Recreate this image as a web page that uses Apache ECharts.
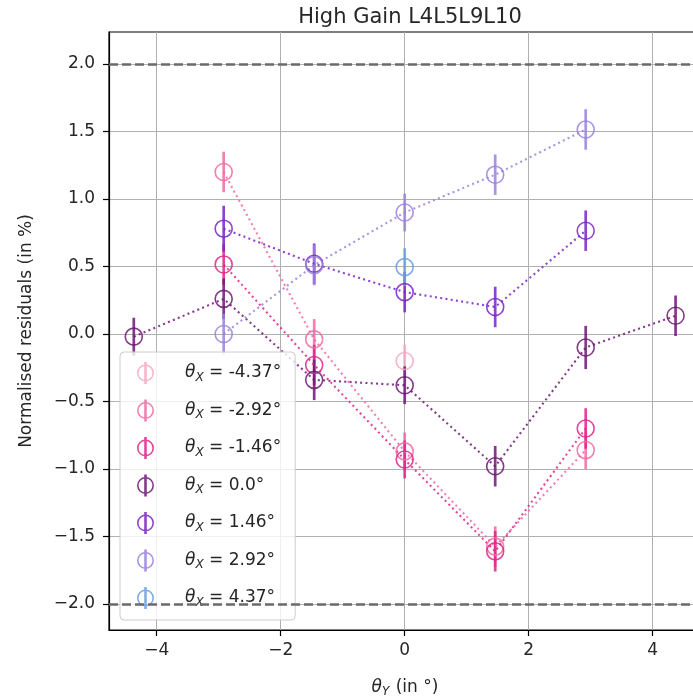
<!DOCTYPE html>
<html>
<head>
<meta charset="utf-8">
<script src="https://cdn.jsdelivr.net/npm/echarts@6/dist/echarts.min.js"></script>
<style>
  html, body { margin: 0; padding: 0; background: #fff; }
  #chart { width: 693px; height: 700px; }
</style>
</head>
<body>
<div id="chart"></div>
<script>
// θX groups shown in the legend, with their colours
const thetaXLabels = ['-4.37', '-2.92', '-1.46', '0.0', '1.46', '2.92', '4.37'];
const groupColors = ['#f7a8c0', '#f06aa3', '#e0238a', '#6e1675', '#7a22c9', '#9a80de', '#6b9de3'];

// θY positions (deg), normalised residuals (%) and their uncertainties, per θX group
const thetaY_m437 = [0];
const resid_m437  = [-0.20];
const err_m437    = [0.12];

const thetaY_m292 = [-2.92, -1.46, 0, 1.46, 2.92];
const resid_m292  = [1.20, -0.04, -0.87, -1.575, -0.86];
const err_m292    = [0.15, 0.15, 0.14, 0.15, 0.14];

const thetaY_m146 = [-2.92, -1.46, 0, 1.46, 2.92];
const resid_m146  = [0.515, -0.23, -0.93, -1.61, -0.70];
const err_m146    = [0.15, 0.15, 0.14, 0.15, 0.15];

const thetaY_0    = [-4.37, -2.92, -1.46, 0, 1.46, 2.92, 4.37];
const resid_0     = [-0.02, 0.26, -0.34, -0.38, -0.98, -0.10, 0.135];
const err_0       = [0.14, 0.15, 0.15, 0.14, 0.15, 0.16, 0.15];

const thetaY_146  = [-2.92, -1.46, 0, 1.46, 2.92];
const resid_146   = [0.78, 0.52, 0.31, 0.20, 0.765];
const err_146     = [0.17, 0.15, 0.15, 0.15, 0.15];

const thetaY_292  = [-2.92, -1.46, 0, 1.46, 2.92];
const resid_292   = [0.0, 0.51, 0.90, 1.18, 1.515];
const err_292     = [0.15, 0.15, 0.14, 0.15, 0.15];

const thetaY_437  = [0];
const resid_437   = [0.495];
const err_437     = [0.14];

// axis ticks
const xTicks = [-4, -2, 0, 2, 4];
const yTicks = [-2, -1.5, -1, -0.5, 0, 0.5, 1, 1.5, 2];
const limitLines = [2, -2];

const groups = [
  [thetaY_m437, resid_m437, err_m437],
  [thetaY_m292, resid_m292, err_m292],
  [thetaY_m146, resid_m146, err_m146],
  [thetaY_0, resid_0, err_0],
  [thetaY_146, resid_146, err_146],
  [thetaY_292, resid_292, err_292],
  [thetaY_437, resid_437, err_437]
];

const FONT = 'DejaVu Sans';
const TXT = '#262626';
const ALPHA = 0.85;

// legend icon: open ring with a vertical error bar through it
const legendIcon = 'path://M0,-8.5A8.5,8.5,0,1,1,0,8.5A8.5,8.5,0,1,1,0,-8.5Z' +
  'M0,-6.9A6.9,6.9,0,1,0,0,6.9A6.9,6.9,0,1,0,0,-6.9Z' +
  'M-1.3,-11L1.3,-11L1.3,11L-1.3,11Z';

const minus = s => String(s).replace('-', '\u2212');

const series = [];
groups.forEach((g, k) => {
  const [xs, ys, es] = g;
  const name = thetaXLabels[k];
  const color = groupColors[k];
  // vertical error bars
  series.push({
    type: 'custom',
    name: name,
    silent: true,
    animation: false,
    z: 2,
    data: xs.map((x, i) => [x, ys[i] - es[i], ys[i] + es[i]]),
    encode: { x: 0, y: [1, 2] },
    renderItem: function (params, api) {
      const a = api.coord([api.value(0), api.value(1)]);
      const b = api.coord([api.value(0), api.value(2)]);
      return {
        type: 'line',
        shape: { x1: a[0], y1: a[1], x2: b[0], y2: b[1] },
        style: { stroke: color, lineWidth: 2.7, opacity: ALPHA }
      };
    }
  });
  // dotted connecting line and open markers
  const line = {
    type: 'line',
    name: name,
    animation: false,
    silent: true,
    z: 3,
    data: xs.map((x, i) => [x, ys[i]]),
    symbol: 'circle',
    symbolSize: 17,
    showSymbol: true,
    showAllSymbol: true,
    itemStyle: { color: 'rgba(0,0,0,0)', borderColor: color, borderWidth: 1.6, opacity: ALPHA },
    lineStyle: { color: color, width: 2.1, type: [2, 3.3], opacity: ALPHA },
    emphasis: { disabled: true }
  };
  if (k === 0) {
    line.markLine = {
      silent: true,
      symbol: 'none',
      animation: false,
      label: { show: false },
      lineStyle: { color: '#6a6a6a', width: 2.6, type: [9, 4], opacity: 1 },
      data: limitLines.map(v => ({ yAxis: v }))
    };
  }
  series.push(line);
});

const chart = echarts.init(document.getElementById('chart'), null, { renderer: 'canvas' });
chart.setOption({
  backgroundColor: '#fff',
  animation: false,
  title: {
    text: 'High Gain L4L5L9L10',
    left: 405,
    textAlign: 'center',
    top: 2,
    textStyle: { fontFamily: FONT, fontSize: 21, fontWeight: 'normal', color: TXT }
  },
  grid: {
    left: 109, top: 32, width: 592, height: 598,
    show: true, borderColor: '#000', borderWidth: 1.2,
    outerBoundsMode: 'none', containLabel: false
  },
  xAxis: {
    type: 'value',
    min: -4.77, max: 4.78,
    axisLine: { show: true, onZero: false, lineStyle: { color: '#000', width: 1.2 } },
    axisTick: { show: true, customValues: xTicks, length: 6, lineStyle: { color: '#000', width: 1.2 } },
    axisLabel: { customValues: xTicks, formatter: v => minus(v), fontFamily: FONT, fontSize: 17, color: TXT, margin: 12 },
    splitLine: { show: true, lineStyle: { color: '#b0b0b0', width: 1 } },
    name: '{th|θ}{sub|Y}{t| (in °)}',
    nameLocation: 'middle',
    nameGap: 47,
    nameTextStyle: {
      fontFamily: FONT, fontSize: 17, color: TXT,
      rich: {
        th: { fontFamily: FONT, fontSize: 17, fontStyle: 'italic', color: TXT },
        sub: { fontFamily: FONT, fontSize: 12, fontStyle: 'italic', color: TXT, padding: [9, 1, 0, 0] },
        t: { fontFamily: FONT, fontSize: 17, color: TXT }
      }
    }
  },
  yAxis: {
    type: 'value',
    min: -2.193, max: 2.237,
    axisLine: { show: true, onZero: false, lineStyle: { color: '#000', width: 1.2 } },
    axisTick: { show: true, customValues: yTicks, length: 6, lineStyle: { color: '#000', width: 1.2 } },
    axisLabel: { customValues: yTicks, formatter: v => minus(Number(v).toFixed(1)), fontFamily: FONT, fontSize: 17, color: TXT, margin: 14 },
    splitLine: { show: true, lineStyle: { color: '#b0b0b0', width: 1 } },
    name: 'Normalised residuals (in %)',
    nameLocation: 'middle',
    nameRotate: 90,
    nameGap: 74,
    nameTextStyle: { fontFamily: FONT, fontSize: 17, color: TXT }
  },
  legend: {
    orient: 'vertical',
    left: 120,
    top: 352,
    padding: [10, 14, 11, 17],
    itemWidth: 43,
    itemHeight: 22,
    itemGap: 15.5,
    selectedMode: false,
    backgroundColor: 'rgba(255,255,255,0.8)',
    borderColor: '#cccccc',
    borderWidth: 1,
    borderRadius: 4,
    data: thetaXLabels.map((n, k) => ({
      name: n,
      icon: legendIcon,
      itemStyle: { color: groupColors[k], borderWidth: 0, opacity: ALPHA }
    })),
    formatter: n => '{sp|\u00a0}{th|θ}{sub|X}{t| = ' + n + '°}',
    textStyle: {
      fontFamily: FONT, fontSize: 17, color: TXT,
      rich: {
        sp: { fontFamily: FONT, fontSize: 17, width: 13 },
        th: { fontFamily: FONT, fontSize: 17, fontStyle: 'italic', color: TXT },
        sub: { fontFamily: FONT, fontSize: 12, fontStyle: 'italic', color: TXT, padding: [9, 0, 0, 0] },
        t: { fontFamily: FONT, fontSize: 17, color: TXT }
      }
    }
  },
  series: series
});
</script>
</body>
</html>
